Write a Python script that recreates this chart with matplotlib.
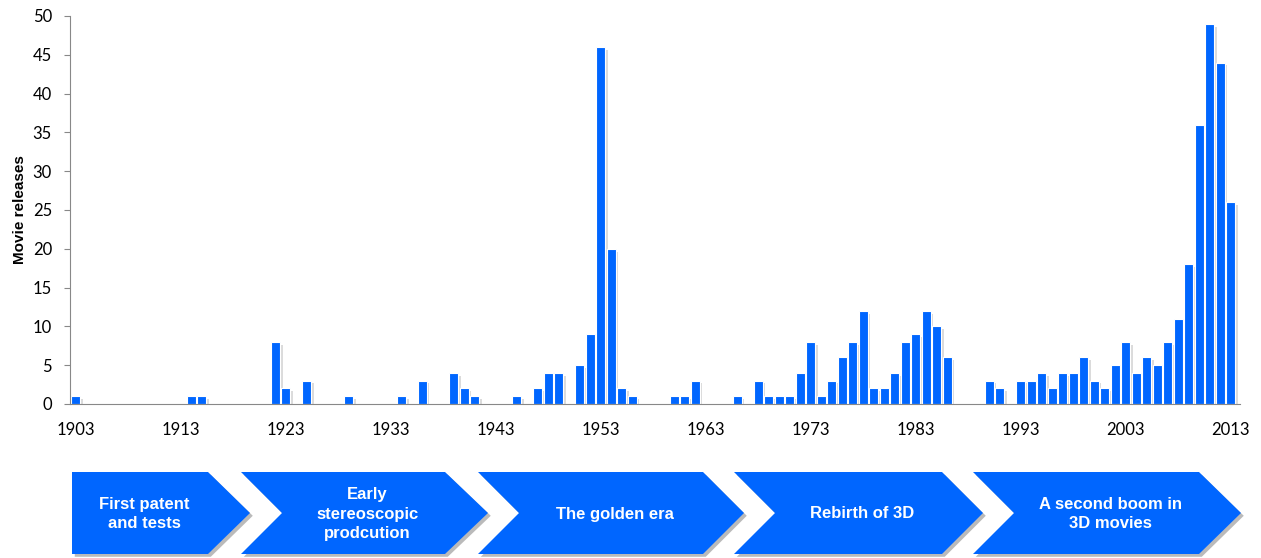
import matplotlib
matplotlib.use("Agg")
import matplotlib.pyplot as plt
from matplotlib.patches import Polygon
import matplotlib.patheffects as pe

# release counts per year (years with zero releases are left out)
years = [1903, 1914, 1915, 1922, 1923, 1925, 1929, 1934, 1936, 1939, 1940, 1941,
         1945, 1947, 1948, 1949, 1951, 1952, 1953, 1954, 1955, 1956, 1960, 1961,
         1962, 1966, 1968, 1969, 1970, 1971, 1972, 1973, 1974, 1975, 1976, 1977,
         1978, 1979, 1980, 1981, 1982, 1983, 1984, 1985, 1986, 1990, 1991, 1993,
         1994, 1995, 1996, 1997, 1998, 1999, 2000, 2001, 2002, 2003, 2004, 2005,
         2006, 2007, 2008, 2009, 2010, 2011, 2012, 2013]
releases = [1, 1, 1, 8, 2, 3, 1, 1, 3, 4, 2, 1,
            1, 2, 4, 4, 5, 9, 46, 20, 2, 1, 1, 1,
            3, 1, 3, 1, 1, 1, 4, 8, 1, 3, 6, 8,
            12, 2, 2, 4, 8, 9, 12, 10, 6, 3, 2, 3,
            3, 4, 2, 4, 4, 6, 3, 2, 5, 8, 4, 6,
            5, 8, 11, 18, 36, 49, 44, 26]

tick_years = list(range(1903, 2014, 10))
eras = ["First patent\nand tests", "Early\nstereoscopic\nprodcution",
        "The golden era", "Rebirth of 3D", "A second boom in\n3D movies"]

BLUE = "#0066ff"
W, H = 1261, 558

fig = plt.figure(figsize=(W / 100, H / 100), dpi=100)

ax = fig.add_axes([70 / W, 1 - 404 / H, (1240 - 70) / W, (404 - 16) / H])
bars = ax.bar(years, releases, width=0.86, color=BLUE, edgecolor="white", linewidth=0.8)
for b in bars:
    b.set_path_effects([pe.SimplePatchShadow(offset=(2, -2), shadow_rgbFace="#999999", alpha=0.35),
                        pe.Normal()])
ax.set_xlim(1902.45, 2013.9)
ax.set_ylim(0, 50)
ax.set_yticks(range(0, 51, 5))
ax.set_xticks(tick_years)
ax.tick_params(axis="y", length=4, color="#888888", labelsize=12, pad=9)
ax.tick_params(axis="x", length=0, labelsize=12, pad=13)
for lab in ax.get_xticklabels() + ax.get_yticklabels():
    lab.set_fontfamily("Lato")
for s in ["top", "right"]:
    ax.spines[s].set_visible(False)
for s in ["left", "bottom"]:
    ax.spines[s].set_color("#888888")
ax.set_ylabel("Movie releases", fontsize=11, fontweight="bold", family="Liberation Sans", labelpad=4)

# chevron timeline below the chart, drawn in pixel coordinates
cax = fig.add_axes([0, 0, 1, 1])
cax.set_xlim(0, W)
cax.set_ylim(H, 0)
cax.axis("off")
top, bot, mid = 472, 554, 513
shapes = [(72, None, 208, 250), (241, 282, 445, 488), (478, 519, 703, 744),
          (734, 775, 942, 983), (973, 1014, 1199, 1241)]
for (left, notch, rtop, tip), label in zip(shapes, eras):
    pts = [(left, top), (rtop, top), (tip, mid), (rtop, bot), (left, bot)]
    if notch is not None:
        pts.append((notch, mid))
    poly = Polygon(pts, closed=True, facecolor=BLUE, edgecolor="none")
    poly.set_path_effects([pe.SimplePatchShadow(offset=(2, -2), shadow_rgbFace="#777777", alpha=0.5),
                           pe.Normal()])
    cax.add_patch(poly)
    cx = ((notch if notch else left) + rtop) / 2 + 4
    cax.text(cx, mid + 1, label, color="white", fontsize=12, fontweight="bold",
             family="Liberation Sans", ha="center", va="center", linespacing=1.35)

fig.savefig("out.png", dpi=100)
